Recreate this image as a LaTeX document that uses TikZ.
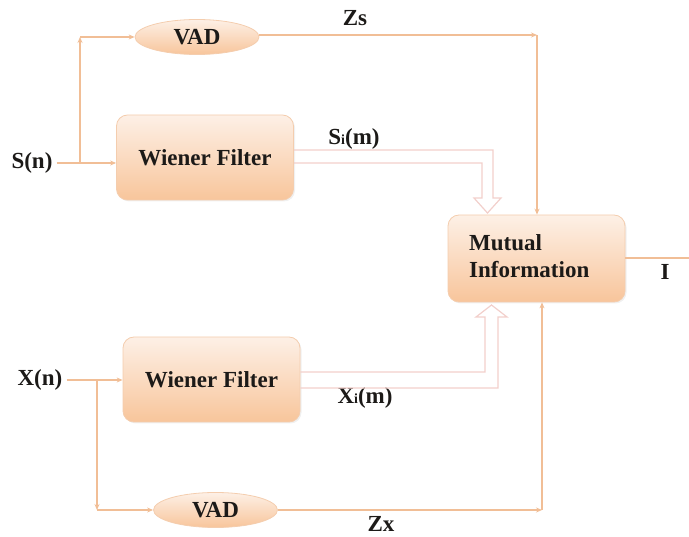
\documentclass[tikz,border=0pt]{standalone}
\usepackage{fontspec}
\setmainfont{Liberation Serif}
\usetikzlibrary{arrows.meta,shapes.geometric,shadows}

\definecolor{wire}{HTML}{F1BE96}
\definecolor{pinkwire}{HTML}{F2CFCB}
\definecolor{boxtop}{HTML}{FDF0E6}
\definecolor{boxbot}{HTML}{F8C59B}
\definecolor{boxedge}{HTML}{F4CDAE}
\definecolor{ink}{HTML}{1C1A18}

\tikzset{
  blockbox/.style={draw=boxedge, line width=0.8pt, rounded corners=11pt,
    top color=boxtop, bottom color=boxbot,
    drop shadow={opacity=0.12, shadow xshift=1.5pt, shadow yshift=-1.5pt},
    minimum width=177pt, minimum height=85pt, inner sep=0pt,
    font=\fontsize{23}{27}\selectfont\bfseries, text=ink},
  vadbox/.style={ellipse, draw=boxedge, line width=0.8pt,
    top color=boxtop, bottom color=boxbot,
    minimum width=124pt, minimum height=35pt, inner sep=0pt,
    font=\fontsize{23}{26}\selectfont\bfseries, text=ink},
  lbl/.style={font=\fontsize{23}{27}\selectfont\bfseries, text=ink, inner sep=0pt},
  wireline/.style={draw=wire, line width=1.3pt},
  feed/.style={wireline, -{Stealth[length=6pt,width=5pt]}},
  hollow/.style={draw=pinkwire, line width=1.2pt, line join=miter}
}

\begin{document}
\begin{tikzpicture}[x=1pt,y=-1pt]
\useasboundingbox (0,0) rectangle (689,537);

% blocks
\node[vadbox]   (vad1) at (197,37)    {VAD};
\node[blockbox] (wf1)  at (205,157.5) {Wiener Filter};
\node[blockbox, minimum height=87pt] (mi) at (536.5,258.5) {};
\node[lbl, anchor=west, align=left] (mitxt) at (469,256)
  {Mutual\\Information};
\node[blockbox] (wf2)  at (211.5,379.5) {Wiener Filter};
\node[vadbox]   (vad2) at (215.5,510) {VAD};

% signal labels
\node[lbl] (sn) at (32,163) {S(n)};
\node[lbl] (xn) at (40,380) {X(n)};
\node[lbl] (zs) at (355,18) {Zs};
\node[lbl] (zx) at (381,524) {Zx};
\node[lbl] (si) at (354,139) {S{\fontsize{14}{14}\selectfont i}(m)};
\node[lbl] (xi) at (365,398) {X{\fontsize{14}{14}\selectfont i}(m)};
\node[lbl] (iout) at (665,272) {I};

% junctions and corners
\coordinate (js) at (80,163);
\coordinate (jx) at (97,380);
\coordinate (cs) at (537,35);
\coordinate (cx) at (542,510);
\coordinate (iend) at (689,258);

% speech branch
\draw[feed] (sn.east) ++(4pt,0) -- (js) -- (js -| wf1.west);
\draw[feed] (js) -- (js |- vad1);
\draw[feed] (js |- vad1) -- (vad1.west);
\draw[feed] (vad1.east |- cs) -- (cs);
\draw[feed] (cs) -- (cs |- mi.north);

% noisy branch
\draw[feed] (xn.east) ++(4pt,0) -- (jx) -- (jx -| wf2.west);
\draw[feed] (jx) -- (jx |- vad2);
\draw[feed] (jx |- vad2) -- (vad2.west);
\draw[feed] (vad2.east) -- (cx);
\draw[feed] (cx) -- (cx |- mi.south);

% output
\draw[wireline] (mi.east |- iend) -- (iend);

% hollow double arrow from the upper filter
\draw[hollow] (wf1.east |- 0,150) -- (493,150) -- (493,198) -- (501,198)
  -- (487.5,213) -- (474,198) -- (482,198) -- (482,163) -- (wf1.east |- 0,163);

% hollow double arrow from the lower filter
\draw[hollow] (wf2.east |- 0,372) -- (485,372) -- (485,317) -- (476,317)
  -- (491.5,305) -- (507,317) -- (498,317) -- (498,388) -- (wf2.east |- 0,388);
\end{tikzpicture}
\end{document}
